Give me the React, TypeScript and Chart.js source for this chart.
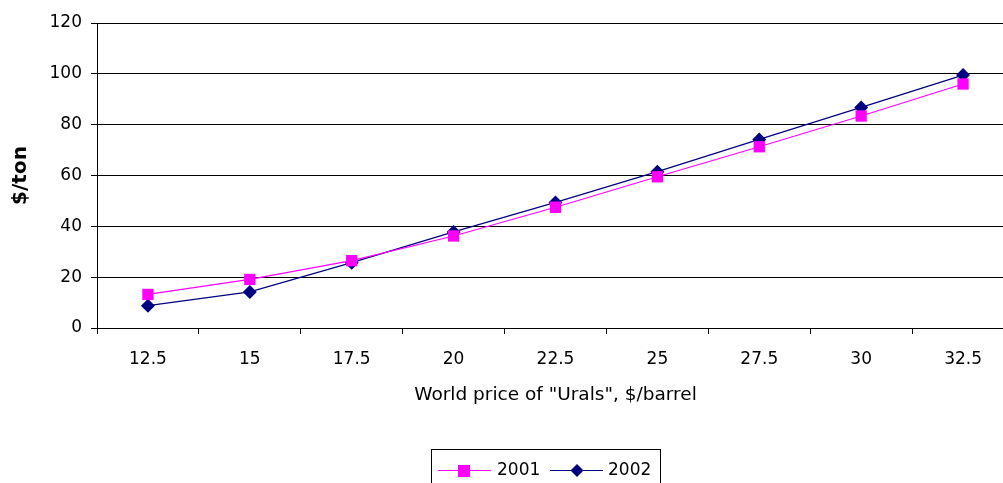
import React, { useEffect, useRef } from "react";
import { Chart, registerables } from "chart.js";

Chart.register(...registerables);

const categories = ["12.5", "15", "17.5", "20", "22.5", "25", "27.5", "30", "32.5"];
const series2001 = [13.2, 19.1, 26.5, 36.2, 47.5, 59.5, 71.3, 83.4, 96.0];
const series2002 = [8.8, 14.2, 25.7, 37.8, 49.4, 61.5, 74.2, 86.8, 99.5];
const seriesLabels = ["2001", "2002"];
const yTitle = "$/ton";
const xTitle = 'World price of "Urals", $/barrel';

const FONT = "'DejaVu Sans', Verdana, sans-serif";

const legendPlugin = {
  id: "customLegend",
  afterDraw(chart: any) {
    const ctx = chart.ctx as CanvasRenderingContext2D;
    ctx.save();
    ctx.strokeStyle = "#000";
    ctx.lineWidth = 1;
    ctx.strokeRect(431.5, 449.5, 229, 40);
    const y = 470;
    const items = [
      { x0: 438, x1: 491, mx: 464, tx: 497 },
      { x0: 550, x1: 603, mx: 577, tx: 608 },
    ];
    chart.data.datasets.forEach((ds: any, i: number) => {
      const it = items[i];
      ctx.strokeStyle = ds.borderColor;
      ctx.lineWidth = 1;
      ctx.beginPath();
      ctx.moveTo(it.x0, y + 0.5);
      ctx.lineTo(it.x1, y + 0.5);
      ctx.stroke();
      ctx.fillStyle = ds.pointBackgroundColor;
      if (ds.pointStyle === "rect") {
        ctx.fillRect(it.mx - 6, y - 5, 12, 12);
      } else {
        ctx.beginPath();
        ctx.moveTo(it.mx, y - 6);
        ctx.lineTo(it.mx + 6.5, y + 0.5);
        ctx.lineTo(it.mx, y + 7);
        ctx.lineTo(it.mx - 6.5, y + 0.5);
        ctx.closePath();
        ctx.fill();
      }
      ctx.fillStyle = "#000";
      ctx.font = `17px ${FONT}`;
      ctx.textBaseline = "middle";
      ctx.textAlign = "left";
      ctx.fillText(ds.label, it.tx, y + 1);
    });
    ctx.restore();
  },
};

export default function App() {
  const ref = useRef<HTMLCanvasElement | null>(null);
  useEffect(() => {
    if (!ref.current) return;
    const chart = new Chart(ref.current, {
      type: "line",
      data: {
        labels: categories,
        datasets: [
          {
            label: seriesLabels[0],
            data: series2001,
            borderColor: "#FF00FF",
            backgroundColor: "#FF00FF",
            pointBackgroundColor: "#FF00FF",
            pointBorderColor: "#FF00FF",
            pointStyle: "rect",
            pointRadius: 8,
            borderWidth: 1.2,
            pointBorderWidth: 0,
          },
          {
            label: seriesLabels[1],
            data: series2002,
            borderColor: "#000080",
            backgroundColor: "#000080",
            pointBackgroundColor: "#000080",
            pointBorderColor: "#000080",
            pointStyle: "rectRot",
            pointRadius: 7,
            borderWidth: 1.2,
            pointBorderWidth: 0,
          },
        ],
      },
      options: {
        responsive: false,
        animation: false,
        devicePixelRatio: 1,
        layout: { padding: { top: 23, right: 0, bottom: 75, left: 0 } },
        plugins: { legend: { display: false }, tooltip: { enabled: false } },
        scales: {
          x: {
            type: "category",
            offset: true,
            grid: {
              display: true,
              drawOnChartArea: false,
              drawTicks: true,
              tickLength: 6,
              color: "#000",
              offset: true,
            },
            border: { display: true, color: "#000" },
            ticks: { color: "#000", font: { family: FONT, size: 17 }, padding: 15, maxRotation: 0 },
            title: {
              display: true,
              text: xTitle,
              color: "#000",
              font: { family: FONT, size: 18.5 },
              padding: { top: 0, bottom: 2 },
            },
            afterFit(scale: any) {
              scale.height = 80;
              scale.paddingLeft = 0;
              scale.paddingRight = 0;
            },
          },
          y: {
            min: 0,
            max: 120,
            ticks: { stepSize: 20, color: "#000", font: { family: FONT, size: 17 }, padding: 9 },
            grid: { color: "#000", tickLength: 6, drawTicks: true },
            border: { display: true, color: "#000" },
            title: {
              display: true,
              text: yTitle,
              color: "#000",
              font: { family: FONT, size: 20, weight: "bold" },
              padding: { top: 9, bottom: 0 },
            },
            afterFit(scale: any) {
              scale.width = 97;
            },
          },
        },
      },
      plugins: [legendPlugin],
    });
    return () => chart.destroy();
  }, []);
  return (
    <div
      style={{ position: "absolute", left: 0, top: 0, width: 1003, height: 483, overflow: "hidden" }}
    >
      <canvas
        ref={ref}
        width={1022}
        height={483}
        style={{ display: "block", width: 1022, height: 483 }}
      />
    </div>
  );
}
